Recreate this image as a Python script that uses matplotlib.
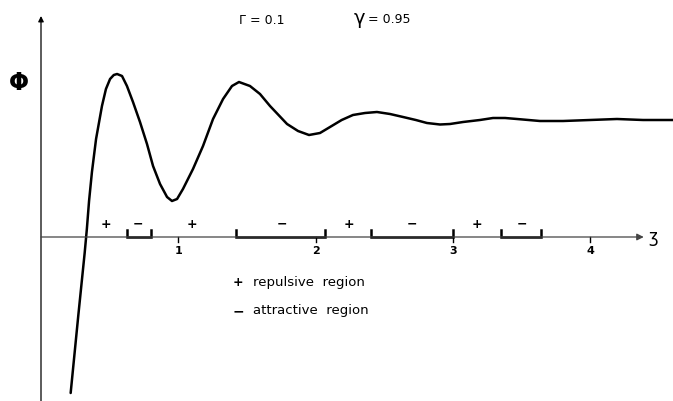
import matplotlib
matplotlib.use("Agg")
import matplotlib.pyplot as plt

# potential curve (zeta, phi)
zeta = [0.216, 0.272, 0.318, 0.334, 0.350, 0.371, 0.401, 0.444, 0.473, 0.503, 0.530,
        0.554, 0.590, 0.626, 0.670, 0.721, 0.772, 0.816, 0.867, 0.918, 0.954,
        0.991, 1.034, 1.107, 1.180, 1.253, 1.326, 1.391, 1.442, 1.522, 1.595,
        1.668, 1.792, 1.872, 1.952, 2.032, 2.105, 2.190, 2.272, 2.360, 2.447,
        2.542, 2.637, 2.730, 2.811, 2.906, 2.979, 3.074, 3.197, 3.292, 3.380,
        3.467, 3.634, 3.802, 3.999, 4.195, 4.385, 4.603]
phi = [-1.56, -0.78, -0.16, 0.08, 0.36, 0.65, 0.98, 1.31, 1.48, 1.58, 1.62,
       1.63, 1.61, 1.51, 1.35, 1.15, 0.93, 0.71, 0.53, 0.40, 0.36,
       0.38, 0.48, 0.68, 0.91, 1.18, 1.38, 1.51, 1.55, 1.51, 1.43,
       1.31, 1.13, 1.06, 1.02, 1.04, 1.10, 1.17, 1.22, 1.24, 1.25,
       1.23, 1.20, 1.17, 1.14, 1.125, 1.13, 1.15, 1.17, 1.19, 1.19,
       1.18, 1.16, 1.16, 1.17, 1.18, 1.17, 1.17]

# region markers on the zeta axis
plus_pos = [0.473, 1.100, 2.243, 3.175]
minus_pos = [0.706, 1.755, 2.702, 3.503]
attractive_spans = [(0.626, 0.801), (1.420, 2.068), (2.403, 3.000), (3.350, 3.642)]
tick_vals = [1, 2, 3, 4]

gamma_cap = "0.1"
gamma_small = "0.95"

fig = plt.figure(figsize=(6.73, 4.02), dpi=100)
ax = fig.add_axes([0, 0, 1, 1])
ax.set_xlim(-41 / 137.3, (673 - 41) / 137.3)
ax.set_ylim(-(402 - 238) / 100, 2.38)
ax.axis("off")

# curve
ax.plot(zeta, phi, color="black", linewidth=1.8, solid_joinstyle="round",
        solid_capstyle="round")

# y axis with arrow
ax.annotate("", xy=(0, 2.21), xytext=(0, -1.66),
            arrowprops=dict(arrowstyle="-|>", color="black", lw=0.9,
                            mutation_scale=8, shrinkA=0, shrinkB=0))
ax.text(-0.16, 1.55, "Φ", fontsize=17, fontweight="bold", ha="center", va="center")

# zeta axis with arrow
ax.annotate("", xy=(4.39, 0), xytext=(0, 0),
            arrowprops=dict(arrowstyle="-|>", color="#444444", lw=0.9,
                            mutation_scale=10, shrinkA=0, shrinkB=0))
ax.text(4.46, 0.01, "ʒ", fontsize=12, ha="center", va="center")

for t in tick_vals:
    ax.plot([t, t], [0, -0.05], color="black", linewidth=1)
    ax.text(t, -0.13, str(t), fontsize=8, fontweight="bold", ha="center", va="center")

# attractive region brackets
for a, b in attractive_spans:
    ax.plot([a, a, b, b], [0.07, 0, 0, 0.07], color="black", linewidth=1.8,
            solid_joinstyle="miter")

for p in plus_pos:
    ax.text(p, 0.13, "+", fontsize=9, fontweight="bold", ha="center", va="center")
for m in minus_pos:
    ax.text(m, 0.14, "−", fontsize=9, fontweight="bold", ha="center", va="center")

# parameters
ax.text((262 - 41) / 137.3, 2.17, f"Γ = {gamma_cap}", fontsize=9, ha="center", va="center")
ax.text((359 - 41) / 137.3, 2.19, "γ", fontsize=14, ha="center", va="center")
ax.text((368 - 41) / 137.3, 2.18, f"= {gamma_small}", fontsize=9, ha="left", va="center")

# legend text
ax.text((238 - 41) / 137.3, -0.45, "+", fontsize=9, fontweight="bold", ha="center", va="center")
ax.text((253 - 41) / 137.3, -0.45, "repulsive  region", fontsize=9.5, ha="left", va="center")
ax.text((238 - 41) / 137.3, -0.73, "−", fontsize=10, fontweight="bold", ha="center", va="center")
ax.text((253 - 41) / 137.3, -0.73, "attractive  region", fontsize=9.5, ha="left", va="center")

fig.savefig("out.png", dpi=100, facecolor="white")
